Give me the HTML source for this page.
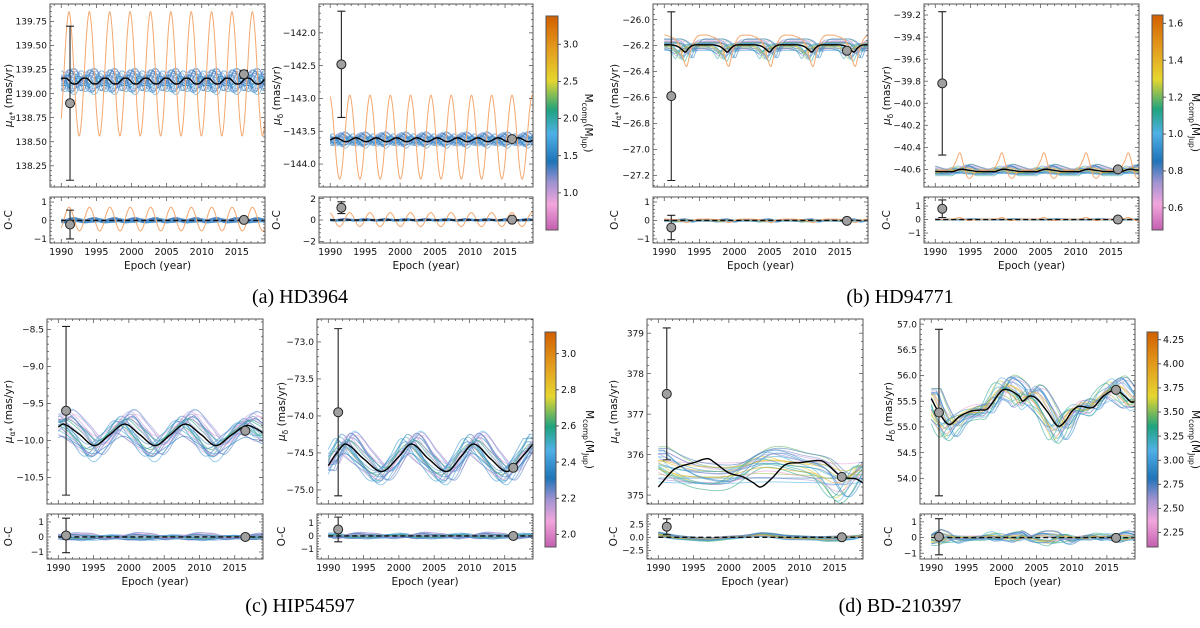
<!DOCTYPE html>
<html><head><meta charset="utf-8"><style>
html,body{margin:0;padding:0;background:#fff;}
svg{display:block;font-family:"DejaVu Sans","Liberation Sans",sans-serif;}
</style></head><body>
<svg id="fig" width="1200" height="628" viewBox="0 0 1200 628" xmlns="http://www.w3.org/2000/svg">
<defs>
<linearGradient id="cmap" x1="0" y1="1" x2="0" y2="0">
<stop offset="0" stop-color="#c35fb0"/><stop offset="0.12" stop-color="#f2a6dc"/><stop offset="0.22" stop-color="#a193d2"/>
<stop offset="0.32" stop-color="#1f74b8"/><stop offset="0.45" stop-color="#4fb0e6"/><stop offset="0.56" stop-color="#1fa37f"/>
<stop offset="0.7" stop-color="#e6d62f"/><stop offset="0.85" stop-color="#e39a1c"/><stop offset="1" stop-color="#d25f00"/>
</linearGradient>
</defs>
</svg>
<script>
// ---------- data ----------
const X_MIN = 1988.4, X_MAX = 2019.0;
const xTicks = [1990, 1995, 2000, 2005, 2010, 2015];

// a1
const a1YTicks = [138.25, 138.5, 138.75, 139.0, 139.25, 139.5, 139.75];
const a1OcTicks = [-1, 0, 1];
const a1BlackProfile = [139.16, 139.155, 139.13, 139.105, 139.10, 139.105, 139.13, 139.155];
const a1OrangeProfile = [139.85, 139.65, 139.2, 138.75, 138.56, 138.75, 139.2, 139.65];
const a1PtT = [1991.25, 2016.0], a1PtV = [138.9, 139.2], a1PtE = [0.8, 0.04];
const a1OcV = [-0.22, 0.03], a1OcE = [0.78, 0.03];
// a2
const a2YTicks = [-144.0, -143.5, -143.0, -142.5, -142.0];
const a2OcTicks = [-2, 0, 2];
const a2BlackProfile = [-143.60, -143.61, -143.63, -143.65, -143.66, -143.65, -143.63, -143.61];
const a2OrangeProfile = [-142.95, -143.15, -143.6, -144.05, -144.23, -144.05, -143.6, -143.15];
const a2PtT = [1991.6, 2016.0], a2PtV = [-142.48, -143.62], a2PtE = [0.81, 0.03];
const a2OcV = [1.15, 0.03], a2OcE = [0.55, 0.03];
// b1
const b1YTicks = [-27.2, -27.0, -26.8, -26.6, -26.4, -26.2, -26.0];
const b1OcTicks = [-1, 0, 1];
const b1BlackProfile = [-26.25, -26.22, -26.2, -26.195, -26.195, -26.195, -26.195, -26.195, -26.195, -26.2, -26.21, -26.23];
const b1OrangeProfile = [-26.36, -26.25, -26.17, -26.13, -26.12, -26.12, -26.12, -26.13, -26.14, -26.16, -26.2, -26.3];
const b1PtT = [1991.0, 2016.0], b1PtV = [-26.59, -26.24], b1PtE = [0.65, 0.02];
const b1OcV = [-0.38, -0.02], b1OcE = [0.66, 0.02];
// b2
const b2YTicks = [-40.6, -40.4, -40.2, -40.0, -39.8, -39.6, -39.4, -39.2];
const b2OcTicks = [-1, 0, 1];
const b2BlackProfile = [-40.62, -40.61, -40.60, -40.60, -40.605, -40.61, -40.615, -40.62, -40.62, -40.62, -40.62, -40.62];
const b2OrangeProfile = [-40.45, -40.55, -40.66, -40.68, -40.64, -40.62, -40.61, -40.61, -40.61, -40.6, -40.58, -40.52];
const b2PtT = [1991.0, 2016.0], b2PtV = [-39.82, -40.60], b2PtE = [0.65, 0.02];
const b2OcV = [0.8, 0.0], b2OcE = [0.65, 0.02];
// c1
const c1YTicks = [-10.5, -10.0, -9.5, -9.0, -8.5];
const c1OcTicks = [-1, 0, 1];
const c1BlackYears = [1990, 1990.8, 1993, 1995.1, 1997.2, 1999.4, 2001.5, 2003.7, 2005.8, 2008, 2010.2, 2012.3, 2014.5, 2016.6, 2018, 2019];
const c1BlackVals = [-9.82, -9.78, -9.92, -10.07, -9.93, -9.78, -9.92, -10.07, -9.93, -9.78, -9.92, -10.07, -9.93, -9.80, -9.84, -9.9];
const c1PtT = [1991.1, 2016.5], c1PtV = [-9.6, -9.87], c1PtE = [1.14, 0.02];
const c1OcV = [0.1, 0.0], c1OcE = [1.15, 0.02];
// c2
const c2YTicks = [-75.0, -74.5, -74.0, -73.5, -73.0];
const c2OcTicks = [-1, 0, 1];
const c2BlackYears = [1990, 1991.2, 1992.5, 1995.0, 1997.6, 2000.0, 2001.8, 2004.2, 2006.8, 2008.8, 2010.6, 2013.0, 2015.3, 2017.2, 2019];
const c2BlackVals = [-74.67, -74.5, -74.38, -74.58, -74.75, -74.55, -74.38, -74.58, -74.75, -74.55, -74.38, -74.58, -74.75, -74.58, -74.38];
const c2PtT = [1991.4, 2016.2], c2PtV = [-73.95, -74.7], c2PtE = [1.13, 0.02];
const c2OcV = [0.5, 0.0], c2OcE = [0.95, 0.02];
// d1
const d1YTicks = [375, 376, 377, 378, 379];
const d1OcTicks = [-2.5, 0, 2.5];
const d1BlackYears = [1990, 1992, 1993, 1995, 1997, 1998, 2000, 2002, 2003.5, 2004.5, 2006, 2008, 2010, 2013, 2014, 2016, 2018, 2019];
const d1BlackVals = [375.2, 375.6, 375.7, 375.8, 375.9, 375.8, 375.55, 375.45, 375.3, 375.2, 375.4, 375.75, 375.8, 375.85, 375.75, 375.45, 375.4, 375.3];
const d1CenterYears = [1990, 1993, 1996, 2000, 2005, 2010, 2013, 2016, 2019];
const d1CenterVals = [375.7, 375.6, 375.55, 375.55, 375.7, 375.65, 375.6, 375.45, 375.65];
const d1PtT = [1991.2, 2016.0], d1PtV = [377.5, 375.45], d1PtE = [1.63, 0.03];
const d1OcV = [2.0, 0.0], d1OcE = [1.5, 0.03];
// d2
const d2YTicks = [54.0, 54.5, 55.0, 55.5, 56.0, 56.5, 57.0];
const d2OcTicks = [-1, 0, 1];
const d2BlackYears = [1990, 1991, 1992.5, 1994, 1995.5, 1997, 1998, 2000, 2001, 2002.5, 2003, 2004, 2005, 2006.5, 2008, 2009, 2010, 2011, 2013, 2014.5, 2016.3, 2017.5, 2018.5, 2019];
const d2BlackVals = [55.55, 55.3, 55.05, 55.2, 55.3, 55.33, 55.35, 55.7, 55.72, 55.6, 55.5, 55.6, 55.55, 55.3, 55.02, 55.1, 55.3, 55.4, 55.38, 55.6, 55.72, 55.6, 55.48, 55.5];
const d2PtT = [1991.1, 2016.3], d2PtV = [55.28, 55.72], d2PtE = [1.62, 0.02];
const d2OcV = [0.05, -0.02], d2OcE = [1.15, 0.02];

// colorbars
const aCbTicks = [1.0, 1.5, 2.0, 2.5, 3.0];
const bCbTicks = [0.6, 0.8, 1.0, 1.2, 1.4, 1.6];
const cCbTicks = [2.0, 2.2, 2.4, 2.6, 2.8, 3.0];
const dCbTicks = [2.25, 2.5, 2.75, 3.0, 3.25, 3.5, 3.75, 4.0, 4.25];

// ensemble members
const memberShift = [0, 0.3, -0.4, 0.8, -0.9, 1.2, -1.3, 0.5, -0.2, 1.5, -1.6, 0.1, 0.9, -0.7, 1.1, -1.1, 0.4, -0.5, 1.4, -1.4, 0.2, -0.3, 0.7, -0.8];
const memberGain = [0.2, 0.8, -0.3, 1.2, 0.5, -0.1, 0.9, 1.5, 0.3, -0.4, 0.6, 1.0, 0.1, 0.7, -0.2, 1.3, 0.4, 0.0, 1.1, 0.6, -0.3, 0.8, 0.2, 1.4];
const memberOffset = [0.1, -0.5, 0.7, -0.2, 0.4, -0.8, 0.9, -0.1, 0.3, -0.6, 0.6, -0.9, 0.2, 0.8, -0.4, 0.0, -0.7, 0.5, -0.3, 1.0, -1.0, 0.35, -0.25, 0.15];
const memberMass = [0.3, 0.6, 0.1, 0.8, 0.45, 0.2, 0.7, 0.5, 0.9, 0.35, 0.15, 0.65, 0.55, 0.25, 0.75, 0.4, 0.05, 0.85, 0.6, 0.3, 0.5, 0.2, 0.95, 0.4];

// ---------- helpers ----------
const NS = 'http://www.w3.org/2000/svg';
const svg = document.getElementById('fig');
function mk(tag, attrs, parent) {
  const e = document.createElementNS(NS, tag);
  for (const k in attrs) e.setAttribute(k, attrs[k]);
  (parent || svg).appendChild(e);
  return e;
}
function cr(p0, p1, p2, p3, f) {
  return 0.5 * ((2 * p1) + (-p0 + p2) * f + (2 * p0 - 5 * p1 + 4 * p2 - p3) * f * f + (-p0 + 3 * p1 - 3 * p2 + p3) * f * f * f);
}
function periodic(prof, P, t0) {
  const N = prof.length;
  return t => {
    let u = ((t - t0) / P) % 1; if (u < 0) u += 1; u *= N;
    const i = Math.floor(u), f = u - i;
    return cr(prof[(i - 1 + N) % N], prof[i % N], prof[(i + 1) % N], prof[(i + 2) % N], f);
  };
}
function knots(xs, ys) {
  const n = xs.length;
  return t => {
    if (t <= xs[0]) return ys[0];
    if (t >= xs[n - 1]) return ys[n - 1];
    let i = 0; while (i < n - 2 && t > xs[i + 1]) i++;
    const h = xs[i + 1] - xs[i], f = (t - xs[i]) / h;
    const m0 = i > 0 ? (ys[i + 1] - ys[i - 1]) / (xs[i + 1] - xs[i - 1]) * h : (ys[i + 1] - ys[i]);
    const m1 = i < n - 2 ? (ys[i + 2] - ys[i]) / (xs[i + 2] - xs[i]) * h : (ys[i + 1] - ys[i]);
    const f2 = f * f, f3 = f2 * f;
    return (2 * f3 - 3 * f2 + 1) * ys[i] + (f3 - 2 * f2 + f) * m0 + (-2 * f3 + 3 * f2) * ys[i + 1] + (f3 - f2) * m1;
  };
}
const stops = [[0, [195, 95, 176]], [0.12, [242, 166, 220]], [0.22, [161, 147, 210]], [0.32, [31, 116, 184]], [0.45, [79, 176, 230]], [0.56, [31, 163, 127]], [0.7, [230, 214, 47]], [0.85, [227, 154, 28]], [1, [210, 95, 0]]];
function cmap(v) {
  v = Math.max(0, Math.min(1, v));
  for (let i = 0; i < stops.length - 1; i++) {
    if (v <= stops[i + 1][0]) {
      const f = (v - stops[i][0]) / (stops[i + 1][0] - stops[i][0]);
      const c = stops[i][1].map((a, k) => Math.round(a + (stops[i + 1][1][k] - a) * f));
      return 'rgb(' + c.join(',') + ')';
    }
  }
  return 'rgb(210,95,0)';
}
function fmt(v, d) { return (v < 0 ? '\u2212' : '') + Math.abs(v).toFixed(d); }

// ---------- layout config ----------
const groups = [
  { id: 'a', caption: '(a) HD3964', capX: 300, capY: 303, my: [4, 187], oy: [197, 243], xl: 251, el: 265,
    cb: { x: 546, w: 12, y0: 16, y1: 230, min: 0.5, max: 3.38, ticks: aCbTicks, dec: 1, lx: 585 }, mass: [0.2, 0.46],
    panels: [
      { id: 'a1', x0: 50, x1: 265, ylx: 8, yr: [138.03, 139.93], yt: a1YTicks, yd: 2, or: [-1.22, 1.27], ot: a1OcTicks, od: 0, sub: 'α*',
        black: periodic(a1BlackProfile, 2.9, 1990.45), orange: periodic(a1OrangeProfile, 2.9, 1991.1), gainScale: 1.8, spread: 0.06,
        pt: [a1PtT, a1PtV, a1PtE, a1OcV, a1OcE] },
      { id: 'a2', x0: 319, x1: 533, ylx: 276, yr: [-144.35, -141.56], yt: a2YTicks, yd: 1, or: [-2.15, 2.15], ot: a2OcTicks, od: 0, sub: 'δ',
        black: periodic(a2BlackProfile, 2.9, 1990.8), orange: periodic(a2OrangeProfile, 2.9, 1989.9), gainScale: 1.5, spread: 0.06,
        pt: [a2PtT, a2PtV, a2PtE, a2OcV, a2OcE] }] },
  { id: 'b', caption: '(b) HD94771', capX: 900, capY: 303, my: [4, 187], oy: [197, 243], xl: 251, el: 265,
    cb: { x: 1152, w: 11, y0: 15, y1: 230, min: 0.48, max: 1.645, ticks: bCbTicks, dec: 1, lx: 1192 }, mass: [0.05, 0.8],
    panels: [
      { id: 'b1', x0: 653, x1: 868, ylx: 614, yr: [-27.29, -25.88], yt: b1YTicks, yd: 1, or: [-1.22, 1.27], ot: b1OcTicks, od: 0, sub: 'α*',
        black: periodic(b1BlackProfile, 6, 1993), orange: periodic(b1OrangeProfile, 6, 1993.2), gainScale: 0.8, spread: 0.04,
        pt: [b1PtT, b1PtV, b1PtE, b1OcV, b1OcE] },
      { id: 'b2', x0: 924, x1: 1139, ylx: 886, yr: [-40.76, -39.1], yt: b2YTicks, yd: 1, or: [-1.74, 1.67], ot: b2OcTicks, od: 0, sub: 'δ',
        black: periodic(b2BlackProfile, 6, 1992.5), orange: periodic(b2OrangeProfile, 6, 1993.5), gainScale: 1.5, spread: 0.03,
        pt: [b2PtT, b2PtV, b2PtE, b2OcV, b2OcE] }] },
  { id: 'c', caption: '(c) HIP54597', capX: 300, capY: 612, my: [319, 504], oy: [514, 559], xl: 567, el: 581,
    cb: { x: 545, w: 11, y0: 332, y1: 547, min: 1.93, max: 3.12, ticks: cCbTicks, dec: 1, lx: 586 }, mass: [0.05, 0.62],
    panels: [
      { id: 'c1', x0: 47, x1: 263, ylx: 8, yr: [-10.86, -8.36], yt: c1YTicks, yd: 1, or: [-1.47, 1.53], ot: c1OcTicks, od: 0, sub: 'α*',
        black: knots(c1BlackYears, c1BlackVals), orange: null, gainScale: 0.6, spread: 0.14,
        pt: [c1PtT, c1PtV, c1PtE, c1OcV, c1OcE] },
      { id: 'c2', x0: 317, x1: 533, ylx: 281, yr: [-75.19, -72.69], yt: c2YTicks, yd: 1, or: [-1.77, 1.69], ot: c2OcTicks, od: 0, sub: 'δ',
        black: knots(c2BlackYears, c2BlackVals), orange: null, gainScale: 0.5, spread: 0.1,
        pt: [c2PtT, c2PtV, c2PtE, c2OcV, c2OcE] }] },
  { id: 'd', caption: '(d) BD-210397', capX: 900, capY: 612, my: [319, 504], oy: [514, 559], xl: 567, el: 581,
    cb: { x: 1147, w: 11, y0: 332, y1: 547, min: 2.1, max: 4.33, ticks: dCbTicks, dec: 2, lx: 1192 }, mass: [0.05, 0.85],
    panels: [
      { id: 'd1', x0: 647, x1: 863, ylx: 613, yr: [374.78, 379.35], yt: d1YTicks, yd: 0, or: [-4.1, 4.4], ot: d1OcTicks, od: 1, sub: 'α*',
        black: knots(d1BlackYears, d1BlackVals), center: knots(d1CenterYears, d1CenterVals), orange: null, gainScale: 2.5, spread: 0.3,
        pt: [d1PtT, d1PtV, d1PtE, d1OcV, d1OcE] },
      { id: 'd2', x0: 920, x1: 1135, ylx: 888, yr: [53.5, 57.1], yt: d2YTicks, yd: 1, or: [-1.37, 1.5], ot: d2OcTicks, od: 0, sub: 'δ',
        black: knots(d2BlackYears, d2BlackVals), orange: null, gainScale: 0.5, spread: 0.15,
        pt: [d2PtT, d2PtV, d2PtE, d2OcV, d2OcE] }] }
];

// ---------- drawing ----------
let clipN = 0;
function axisFrame(g, x0, x1, y0, y1, ticks, yS, yr, dec, name) {
  const xS = t => x0 + (t - X_MIN) / (X_MAX - X_MIN) * (x1 - x0);
  for (let t = 1989; t <= 2018; t++) {
    const major = t % 5 === 0, L = major ? 4 : 2;
    const x = xS(t);
    mk('line', { x1: x, y1: y1, x2: x, y2: y1 - L, stroke: '#444', 'stroke-width': 0.7 }, g);
    mk('line', { x1: x, y1: y0, x2: x, y2: y0 + L, stroke: '#444', 'stroke-width': 0.7 }, g);
  }
  const step = ticks.length > 1 ? ticks[1] - ticks[0] : 1;
  for (let i = -1; i < ticks.length; i++) {
    for (let k = 0; k < 5; k++) {
      const v = (i < 0 ? ticks[0] - step : ticks[i]) + k * step / 5;
      if (v < yr[0] || v > yr[1]) continue;
      const L = k === 0 ? 4 : 2, y = yS(v);
      mk('line', { x1: x0, y1: y, x2: x0 + L, y2: y, stroke: '#444', 'stroke-width': 0.7 }, g);
      mk('line', { x1: x1, y1: y, x2: x1 - L, y2: y, stroke: '#444', 'stroke-width': 0.7 }, g);
    }
  }
  ticks.forEach(v => {
    const tl = mk('text', { x: x0 - 3, y: yS(v) + 3.2, 'text-anchor': 'end', 'font-size': 9, fill: '#111' }, g);
    
    
    tl.textContent = fmt(v, dec);
  });
  const fr = mk('rect', { x: x0, y: y0, width: x1 - x0, height: y1 - y0, fill: 'none', stroke: '#555', 'stroke-width': 1 }, g);
  
  
  return xS;
}
function pathFrom(fn, xS, yS) {
  let d = '';
  for (let t = 1990; t <= 2019.001; t += 0.05) d += (d ? 'L' : 'M') + xS(t).toFixed(2) + ',' + yS(fn(t)).toFixed(2);
  return d;
}
function clipRect(x0, y0, x1, y1) {
  const id = 'clip' + (clipN++);
  const cp = mk('clipPath', { id: id }, svg.querySelector('defs'));
  mk('rect', { x: x0, y: y0, width: x1 - x0, height: y1 - y0 }, cp);
  return 'url(#' + id + ')';
}
function drawPoints(g, xS, yS, ts, vs, es, name) {
  ts.forEach((t, i) => {
    const x = xS(t);
    const eb = mk('path', { d: `M${x},${yS(vs[i] + es[i])}V${yS(vs[i] - es[i])}M${x - 4},${yS(vs[i] + es[i])}h8M${x - 4},${yS(vs[i] - es[i])}h8`, stroke: '#222', 'stroke-width': 1.1, fill: 'none' }, g);
    
    
    const c = mk('circle', { cx: x, cy: yS(vs[i]), r: 4.5, fill: '#a0a0a0', stroke: '#222', 'stroke-width': 1 }, g);
    
    
  });
}

groups.forEach(G => {
  const gg = mk('g', {});
  
  
  G.panels.forEach(P => {
    const g = mk('g', {}, gg);
    
    
    const [my0, my1] = G.my, [oy0, oy1] = G.oy;
    const yS = v => my1 - (v - P.yr[0]) / (P.yr[1] - P.yr[0]) * (my1 - my0);
    const oS = v => oy1 - (v - P.or[0]) / (P.or[1] - P.or[0]) * (oy1 - oy0);
    const xS = t => P.x0 + (t - X_MIN) / (X_MAX - X_MIN) * (P.x1 - P.x0);
    const center = P.center || P.black;
    let cm = 0, n = 0;
    for (let t = 1990; t <= 2019; t += 0.1) { cm += center(t); n++; }
    cm /= n;
    const members = memberShift.map((s, i) => t => cm + (1 + memberGain[i] * P.gainScale) * (center(t + s) - cm) + memberOffset[i] * P.spread);
    const mainClip = clipRect(P.x0, my0, P.x1, my1), ocClip = clipRect(P.x0, oy0, P.x1, oy1);
    const gm = mk('g', { 'clip-path': mainClip }, g);
    
    
    const go = mk('g', { 'clip-path': ocClip }, g);
    
    
    members.forEach((fn, i) => {
      const col = cmap(G.mass[0] + (G.mass[1] - G.mass[0]) * memberMass[i]);
      const p = mk('path', { d: pathFrom(fn, xS, yS), stroke: col, 'stroke-width': 0.9, fill: 'none', opacity: 0.6 }, gm);
      
      
      const q = mk('path', { d: pathFrom(t => fn(t) - P.black(t), xS, oS), stroke: col, 'stroke-width': 0.9, fill: 'none', opacity: 0.6 }, go);
      
      
    });
    if (P.orange) {
      const p = mk('path', { d: pathFrom(P.orange, xS, yS), stroke: '#f4a870', 'stroke-width': 1, fill: 'none' }, gm);
      
      
      const q = mk('path', { d: pathFrom(t => P.orange(t) - P.black(t), xS, oS), stroke: '#f4a870', 'stroke-width': 1, fill: 'none' }, go);
      
      
    }
    const bl = mk('path', { d: pathFrom(P.black, xS, yS), stroke: '#000', 'stroke-width': 1.4, fill: 'none' }, gm);
    
    
    const zl = mk('line', { x1: xS(1990), y1: oS(0), x2: P.x1, y2: oS(0), stroke: '#111', 'stroke-width': 1.4, 'stroke-dasharray': '5,3' }, go);
    
    
    axisFrame(g, P.x0, P.x1, my0, my1, P.yt, yS, P.yr, P.yd, P.id + '-main');
    axisFrame(g, P.x0, P.x1, oy0, oy1, P.ot, oS, P.or, P.od, P.id + '-oc');
    xTicks.forEach(t => {
      const tl = mk('text', { x: xS(t), y: G.xl + 4, 'text-anchor': 'middle', 'font-size': 9.5, fill: '#111' }, g);
      
      
      tl.textContent = t;
    });
    const xt = mk('text', { x: (P.x0 + P.x1) / 2, y: G.el + 4, 'text-anchor': 'middle', 'font-size': 10.5, fill: '#111' }, g);
    
    
    xt.textContent = 'Epoch (year)';
    const ymid = (my0 + my1) / 2;
    const yl = mk('text', { x: P.ylx, y: ymid, transform: `rotate(-90 ${P.ylx} ${ymid})`, 'text-anchor': 'middle', 'font-size': 10.5, fill: '#111', dy: 4 }, g);
    
    
    yl.innerHTML = '<tspan font-style="italic">μ</tspan><tspan font-size="7.5" dy="3">' + P.sub + '</tspan><tspan dy="-3"> (mas/yr)</tspan>';
    const omid = (oy0 + oy1) / 2;
    const ol = mk('text', { x: P.ylx, y: omid, transform: `rotate(-90 ${P.ylx} ${omid})`, 'text-anchor': 'middle', 'font-size': 10.5, fill: '#111', dy: 4 }, g);
    
    
    ol.textContent = 'O-C';
    drawPoints(g, xS, yS, P.pt[0], P.pt[1], P.pt[2], P.id + '-main');
    drawPoints(g, xS, oS, P.pt[0], P.pt[3], P.pt[4], P.id + '-oc');
  });
  const C = G.cb;
  const cb = mk('g', {}, gg);
  
  
  mk('rect', { x: C.x, y: C.y0, width: C.w, height: C.y1 - C.y0, fill: 'url(#cmap)', stroke: '#555', 'stroke-width': 1 }, cb);
  const cS = v => C.y1 - (v - C.min) / (C.max - C.min) * (C.y1 - C.y0);
  C.ticks.forEach(v => {
    mk('line', { x1: C.x + C.w, y1: cS(v), x2: C.x + C.w + 3, y2: cS(v), stroke: '#333', 'stroke-width': 0.8 }, cb);
    const t = mk('text', { x: C.x + C.w + 5, y: cS(v) + 3.2, 'font-size': 9.5, fill: '#111' }, cb);
    
    
    t.textContent = v.toFixed(C.dec);
  });
  const cmid = (C.y0 + C.y1) / 2;
  const cl = mk('text', { x: C.lx, y: cmid, transform: `rotate(90 ${C.lx} ${cmid})`, 'text-anchor': 'middle', 'font-size': 10.5, fill: '#111' }, cb);
  
  
  cl.innerHTML = 'M<tspan font-size="7.5" dy="3">comp</tspan><tspan dy="-3">(M</tspan><tspan font-size="7.5" dy="3">Jup</tspan><tspan dy="-3">)</tspan>';
  const cap = mk('text', { x: G.capX, y: G.capY, 'text-anchor': 'middle', 'font-size': 20, fill: '#000', 'font-family': '"Liberation Serif", serif' }, gg);
  
  
  cap.textContent = G.caption;
});
</script>
</body></html>
